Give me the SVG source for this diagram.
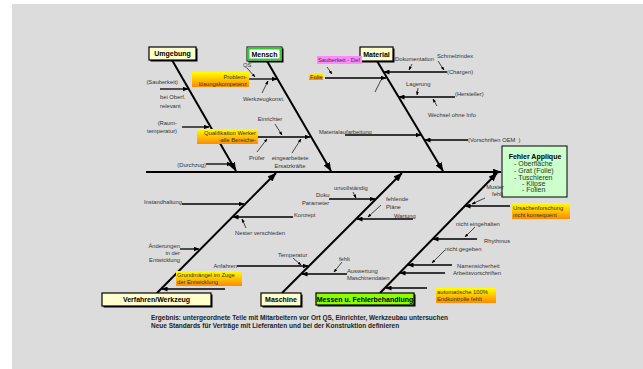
<svg xmlns="http://www.w3.org/2000/svg" width="643" height="369" viewBox="0 0 643 369">
<defs>
<style>
.t{font-family:"Liberation Sans",Arial,sans-serif;font-size:5.8px;fill:#333}
.e{text-anchor:end}
.m{text-anchor:middle}
.h{font-family:"Liberation Sans",Arial,sans-serif;font-size:7px;font-weight:bold;fill:#000;text-anchor:middle}
.bone{stroke:#000;stroke-width:2;fill:none}
.sub{stroke:#000;stroke-width:1.3;fill:none}
.ptr{stroke:#000;stroke-width:0.7;fill:none}
.cat{fill:#ffffcc;stroke:#000;stroke-width:1.2}
.shd{fill:#000}
.grad{fill:url(#g)}
</style>
<linearGradient id="g" x1="0" y1="0" x2="0" y2="1">
<stop offset="0" stop-color="#ffff00"/>
<stop offset="1" stop-color="#ff8a00"/>
</linearGradient>
<marker id="a" markerUnits="userSpaceOnUse" viewBox="0 0 6 5" markerWidth="6" markerHeight="5" refX="5.5" refY="2.5" orient="auto"><path d="M0,0 L6,2.5 L0,5 z" fill="#000"/></marker>
<marker id="b" markerUnits="userSpaceOnUse" viewBox="0 0 9 7" markerWidth="9" markerHeight="7" refX="8.5" refY="3.5" orient="auto"><path d="M0,0 L9,3.5 L0,7 z" fill="#000"/></marker>
<marker id="s" markerUnits="userSpaceOnUse" viewBox="0 0 4 3" markerWidth="4" markerHeight="3" refX="3.5" refY="1.5" orient="auto"><path d="M0,0 L4,1.5 L0,3 z" fill="#000"/></marker>
</defs>
<rect x="12" y="4" width="631" height="365" fill="#dcdcdc"/>

<g id="connectors">
<line class="bone" x1="146" y1="172" x2="501" y2="172" marker-end="url(#b)"/>
<line class="bone" x1="172" y1="60" x2="236" y2="171" marker-end="url(#b)"/>
<line class="bone" x1="267" y1="61" x2="331" y2="171" marker-end="url(#b)"/>
<line class="bone" x1="377" y1="61" x2="443" y2="171" marker-end="url(#b)"/>
<line class="bone" x1="157" y1="293" x2="276" y2="173" marker-end="url(#b)"/>
<line class="bone" x1="282" y1="293" x2="402" y2="173" marker-end="url(#b)"/>
<line class="bone" x1="380" y1="293" x2="497" y2="173" marker-end="url(#b)"/>

<line class="sub" x1="160" y1="89" x2="188" y2="89" marker-end="url(#a)"/>
<line class="sub" x1="182" y1="127" x2="209" y2="127" marker-end="url(#a)"/>
<line class="sub" x1="206" y1="164" x2="232" y2="164" marker-end="url(#a)"/>
<line class="sub" x1="249" y1="79" x2="277" y2="79" marker-end="url(#a)"/>
<line class="sub" x1="258" y1="137" x2="310" y2="137" marker-end="url(#a)"/>
<line class="sub" x1="325" y1="78" x2="386" y2="78" marker-end="url(#a)"/>
<line class="sub" x1="447" y1="72" x2="384" y2="72" marker-end="url(#a)"/>
<line class="sub" x1="455" y1="97" x2="399" y2="97" marker-end="url(#a)"/>
<line class="sub" x1="345" y1="135" x2="421" y2="135" marker-end="url(#a)"/>
<line class="sub" x1="468" y1="140" x2="425" y2="140" marker-end="url(#a)"/>
<line class="sub" x1="182" y1="204" x2="244" y2="204" marker-end="url(#a)"/>
<line class="sub" x1="293" y1="217" x2="233" y2="217" marker-end="url(#a)"/>
<line class="sub" x1="180" y1="249" x2="199" y2="249" marker-end="url(#a)"/>
<line class="sub" x1="225" y1="289" x2="162" y2="289" marker-end="url(#a)"/>
<line class="sub" x1="237" y1="266" x2="308" y2="266" marker-end="url(#a)"/>
<line class="sub" x1="347" y1="274" x2="302" y2="274" marker-end="url(#a)"/>
<line class="sub" x1="329" y1="199" x2="375" y2="199" marker-end="url(#a)"/>
<line class="sub" x1="413" y1="219" x2="357" y2="219" marker-end="url(#a)"/>
<line class="sub" x1="510" y1="206" x2="465" y2="206" marker-end="url(#a)"/>
<line class="sub" x1="477" y1="239" x2="433" y2="239" marker-end="url(#a)"/>
<line class="sub" x1="452" y1="265" x2="408" y2="265" marker-end="url(#a)"/>
<line class="sub" x1="445" y1="273" x2="400" y2="273" marker-end="url(#a)"/>
<line class="sub" x1="427" y1="288" x2="386" y2="288" marker-end="url(#a)"/>

<line class="ptr" x1="247" y1="68" x2="255" y2="77" marker-end="url(#s)"/>
<line class="ptr" x1="262" y1="93" x2="268" y2="81" marker-end="url(#s)"/>
<line class="ptr" x1="275" y1="124" x2="282" y2="135" marker-end="url(#s)"/>
<line class="ptr" x1="257" y1="152" x2="267" y2="139" marker-end="url(#s)"/>
<line class="ptr" x1="292" y1="153" x2="301" y2="139" marker-end="url(#s)"/>
<line class="ptr" x1="327" y1="67" x2="332" y2="74" marker-end="url(#s)"/>
<line class="ptr" x1="375" y1="92" x2="381" y2="80"/>
<line class="ptr" x1="412" y1="64" x2="409" y2="70" marker-end="url(#s)"/>
<line class="ptr" x1="438" y1="61" x2="444" y2="70" marker-end="url(#s)"/>
<line class="ptr" x1="418" y1="88" x2="417" y2="95" marker-end="url(#s)"/>
<line class="ptr" x1="437" y1="106" x2="433" y2="99" marker-end="url(#s)"/>
<line class="ptr" x1="246" y1="228" x2="242" y2="219" marker-end="url(#s)"/>
<line class="ptr" x1="293" y1="258" x2="301" y2="265" marker-end="url(#s)"/>
<line class="ptr" x1="342" y1="262" x2="334" y2="272" marker-end="url(#s)"/>
<line class="ptr" x1="353" y1="192" x2="356" y2="198" marker-end="url(#s)"/>
<line class="ptr" x1="381" y1="205" x2="368" y2="217" marker-end="url(#s)"/>
<line class="ptr" x1="485" y1="198" x2="472" y2="204" marker-end="url(#s)"/>
<line class="ptr" x1="475" y1="227" x2="465" y2="237" marker-end="url(#s)"/>
<line class="ptr" x1="445" y1="250" x2="432" y2="263" marker-end="url(#s)"/>
</g>

<g id="umgebung">
<rect class="shd" x="150.5" y="48.5" width="47" height="13"/>
<rect class="cat" x="149" y="47" width="47" height="13"/>
<text class="h" x="172.5" y="56.3">Umgebung</text>
</g>
<g id="mensch">
<rect class="shd" x="248.5" y="48.5" width="35" height="14"/>
<rect x="247" y="47" width="35" height="14" fill="#fff" stroke="#000" stroke-width="1"/>
<rect x="248.5" y="48.5" width="32" height="11" fill="none" stroke="#33cc33" stroke-width="2"/>
<text class="h" x="264.5" y="56.8">Mensch</text>
</g>
<g id="material">
<rect class="shd" x="361.5" y="48.5" width="33" height="14"/>
<rect class="cat" x="360" y="47" width="33" height="14"/>
<text class="h" x="376.5" y="56.8">Material</text>
</g>
<g id="verfahren">
<rect class="shd" x="103.5" y="294.5" width="109" height="13"/>
<rect class="cat" x="102" y="293" width="109" height="13"/>
<text class="h" x="156.5" y="302.3">Verfahren/Werkzeug</text>
</g>
<g id="maschine">
<rect class="shd" x="262.5" y="294.5" width="40" height="13"/>
<rect class="cat" x="261" y="293" width="40" height="13"/>
<text class="h" x="281" y="302.3">Maschine</text>
</g>
<g id="messen">
<rect class="shd" x="317.5" y="294.5" width="98" height="12"/>
<rect x="316" y="293" width="98" height="12" fill="#8cff00" stroke="#000" stroke-width="1.2"/>
<text class="h" x="365" y="301.8">Messen u. Fehlerbehandlung</text>
</g>
<g id="fehler">
<rect x="502" y="146" width="65" height="51" fill="#ccffcc" stroke="#000" stroke-width="1"/>
<text class="h" x="535" y="159">Fehler Applique</text>
<g font-family="Liberation Sans, Arial, sans-serif" font-size="7" fill="#1f3a1f">
<text x="514" y="165.5">- Oberfläche</text>
<text x="514" y="173">- Grat (Folie)</text>
<text x="514" y="179.5">- Tuschieren</text>
<text x="522" y="185.5">- Klipse</text>
<text x="522" y="191.5">- Folien</text>
</g>
</g>

<g id="highlights">
<rect class="grad" x="192" y="72" width="57" height="15"/>
<rect class="grad" x="197" y="129" width="61" height="15"/>
<rect x="317" y="56" width="45" height="8" fill="#ff88ff"/>
<rect class="grad" x="309" y="73" width="14" height="7"/>
<rect class="grad" x="176" y="271" width="66" height="15"/>
<rect class="grad" x="512" y="203" width="58" height="16"/>
<rect class="grad" x="436" y="288" width="60" height="15"/>
</g>

<g id="labels">
<text class="t e" x="178" y="84">(Sauberkeit)</text>
<text class="t" x="160" y="99">bei Oberf.</text>
<text class="t" x="160" y="108">relevant</text>
<text class="t e" x="177" y="125">(Raum-</text>
<text class="t e" x="177" y="133">temperatur)</text>
<text class="t e" x="206" y="167">(Durchzug)</text>

<text class="t" x="243" y="67">QS</text>
<text class="t e" x="247" y="78.5">Problem-</text>
<text class="t e" x="247" y="85.5">lösungskompetenz</text>
<text class="t" x="243" y="100.5">Werkzeugkonst.</text>
<text class="t m" x="270" y="121">Einrichter</text>
<text class="t e" x="256" y="135">Qualifikation Werker</text>
<text class="t e" x="256" y="142">-alle Bereiche-</text>
<text class="t" x="249" y="160">Prüfer</text>
<text class="t m" x="290" y="160">eingearbeitete</text>
<text class="t m" x="290" y="168">Ersatzkräfte</text>

<text class="t" x="318" y="62">Sauberkeit - Def</text>
<text class="t" x="310" y="79">Folie</text>
<text class="t" x="395" y="61">Dokumentation</text>
<text class="t" x="437" y="58">Schmelzindex</text>
<text class="t" x="447" y="74">(Chargen)</text>
<text class="t" x="406" y="86">Lagerung</text>
<text class="t" x="455" y="96">(Hersteller)</text>
<text class="t" x="428" y="117">Wechsel ohne Info</text>
<text class="t" x="319" y="134">Materialaufarbeitung</text>
<text class="t" x="468" y="142" xml:space="preserve">(Vorschriften OEM  )</text>

<text class="t e" x="182" y="204">Instandhaltung</text>
<text class="t" x="294" y="217">Konzept</text>
<text class="t" x="235" y="235">Nester verschieden</text>
<text class="t e" x="180" y="248">Änderungen</text>
<text class="t e" x="180" y="255">in der</text>
<text class="t e" x="180" y="262">Entwicklung</text>
<text class="t" x="177" y="277">Grundmängel im Zuge</text>
<text class="t" x="177" y="284">der Entwicklung</text>

<text class="t e" x="237" y="268">Anfahren</text>
<text class="t" x="278" y="257">Temperatur</text>
<text class="t" x="339" y="261">fehlt</text>
<text class="t" x="347" y="273">Auswertung</text>
<text class="t" x="347" y="280">Maschinendaten</text>
<text class="t" x="316" y="197">Doku</text>
<text class="t" x="302" y="205">Parameter</text>
<text class="t" x="334" y="190">unvollständig</text>
<text class="t" x="386" y="201">fehlende</text>
<text class="t" x="386" y="209">Pläne</text>
<text class="t" x="394" y="218">Wartung</text>

<text class="t e" x="504" y="189">Muster</text>
<text class="t e" x="503" y="196">fehlt</text>
<text class="t" x="513" y="210">Ursachenforschung</text>
<text class="t" x="513" y="217">nicht konsequent</text>
<text class="t" x="456" y="226">nicht eingehalten</text>
<text class="t" x="484" y="243">Rhythmus</text>
<text class="t" x="445" y="251">nicht gegeben</text>
<text class="t" x="457" y="268">Narrensicherheit</text>
<text class="t" x="453" y="275">Arbeitsvorschriften</text>
<text class="t" x="437" y="294">automatische 100%</text>
<text class="t" x="437" y="301">Endkontrolle fehlt</text>
</g>

<g id="summary" font-family="Liberation Sans, Arial, sans-serif" font-size="6.5" font-weight="bold" fill="#222">
<text x="151" y="319.5">Ergebnis: untergeordnete Teile mit Mitarbeitern vor Ort QS, Einrichter, Werkzeubau untersuchen</text>
<text x="151" y="327.5">Neue Standards für Verträge mit Lieferanten und bei der Konstruktion definieren</text>
</g>
</svg>
